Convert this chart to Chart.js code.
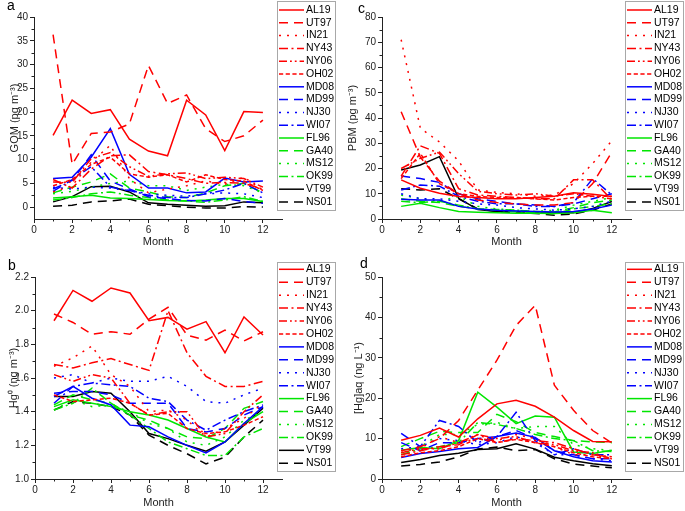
<!DOCTYPE html>
<html>
<head>
<meta charset="utf-8">
<script src="https://cdn.jsdelivr.net/npm/chart.js@4.4.1/dist/chart.umd.min.js"></script>
<style>
  body { margin: 0; background: #fff; width: 685px; height: 511px; position: relative; overflow: hidden; font-family: Arial, "Liberation Sans", sans-serif; }
  .panel { position: absolute; }
  .tag { position: absolute; font-size: 14px; line-height: 14px; color: #000; }
</style>
</head>
<body>
<div class="panel" style="left:0;top:0;width:342px;height:255px"><canvas id="chartA"></canvas></div>
<div class="panel" style="left:342px;top:0;width:343px;height:255px"><canvas id="chartC"></canvas></div>
<div class="panel" style="left:0;top:255px;width:342px;height:256px"><canvas id="chartB"></canvas></div>
<div class="panel" style="left:342px;top:255px;width:343px;height:256px"><canvas id="chartD"></canvas></div>
<div class="tag" style="left:7px;top:-2px">a</div>
<div class="tag" style="left:358px;top:1px">c</div>
<div class="tag" style="left:8px;top:258px">b</div>
<div class="tag" style="left:360px;top:256px">d</div>
<script>
const months = [1, 2, 3, 4, 5, 6, 7, 8, 9, 10, 11, 12]
const sites = ['AL19', 'UT97', 'IN21', 'NY43', 'NY06', 'OH02', 'MD08', 'MD99', 'NJ30', 'WI07', 'FL96', 'GA40', 'MS12', 'OK99', 'VT99', 'NS01']

// rows follow the order of sites
const gomValues = [
  [15.1, 22.5, 19.7, 20.5, 14.3, 11.8, 10.8, 22.5, 19.4, 11.9, 20.1, 19.9],
  [36.3, 9.0, 15.5, 15.8, 17.5, 29.8, 21.8, 23.6, 16.5, 13.8, 15.0, 18.3],
  [3.2, 4.5, 9.5, 13.0, 6.0, 3.0, 3.8, 4.5, 5.5, 4.8, 6.3, 3.5],
  [5.8, 4.0, 8.0, 10.8, 11.0, 7.5, 6.8, 6.0, 5.0, 5.2, 5.0, 3.8],
  [5.3, 5.2, 10.2, 11.5, 8.5, 6.5, 7.0, 7.2, 6.0, 6.3, 6.0, 4.2],
  [4.5, 5.8, 9.0, 10.5, 7.0, 6.3, 6.8, 5.3, 6.8, 5.8, 5.5, 3.5],
  [6.0, 6.3, 10.5, 16.5, 6.9, 4.0, 4.0, 3.0, 3.2, 6.1, 5.3, 5.5],
  [3.8, 5.6, 11.0, 5.5, 3.8, 2.2, 1.8, 1.4, 1.3, 1.8, 1.2, 0.8],
  [4.2, 3.8, 4.2, 4.0, 3.5, 2.8, 2.5, 2.3, 2.8, 3.0, 2.8, 2.0],
  [3.3, 5.8, 8.5, 4.2, 3.5, 2.5, 2.0, 2.0, 2.8, 3.6, 5.0, 3.0],
  [1.9, 2.2, 2.5, 1.9, 1.8, 1.6, 1.4, 1.3, 1.5, 1.8, 1.8, 1.2],
  [3.0, 4.2, 5.3, 7.0, 4.0, 3.2, 2.2, 2.0, 3.0, 4.5, 5.0, 3.0],
  [2.8, 3.3, 4.2, 5.0, 5.5, 4.5, 4.5, 3.5, 4.2, 4.8, 4.5, 3.0],
  [1.5, 2.0, 2.8, 3.2, 2.5, 2.0, 1.5, 1.3, 1.0, 1.5, 2.2, 1.2],
  [1.1, 2.2, 4.3, 4.4, 3.2, 0.9, 0.6, 0.4, 0.2, 0.3, 1.1, 0.9],
  [0.2, 0.4, 1.1, 1.3, 1.7, 0.6, 0.3, 0.0, -0.2, -0.2, 0.1, 0.0],
]

const pbmValues = [
  [15.5, 12.2, 10.2, 8.9, 8.5, 8.0, 8.0, 8.5, 9.0, 10.4, 9.8, 8.9],
  [42.5, 24.5, 15.0, 10.0, 7.5, 6.5, 6.0, 5.5, 5.5, 6.5, 14.0, 26.5],
  [71.0, 36.0, 30.5, 23.0, 11.5, 10.5, 10.0, 9.0, 9.5, 14.0, 22.0, 31.0],
  [17.0, 29.0, 26.0, 12.0, 9.5, 9.0, 8.5, 8.0, 8.0, 15.5, 15.5, 7.5],
  [20.0, 24.0, 26.5, 18.0, 11.0, 10.0, 9.5, 10.0, 9.0, 10.0, 9.0, 8.0],
  [16.0, 26.0, 14.0, 10.0, 9.0, 8.5, 8.5, 8.0, 7.5, 8.5, 9.0, 9.0],
  [7.8, 7.5, 7.5, 5.0, 4.0, 3.5, 3.2, 3.0, 2.8, 3.0, 4.0, 5.5],
  [17.0, 16.0, 14.5, 10.0, 8.0, 7.0, 6.0, 5.5, 5.0, 6.0, 8.0, 10.0],
  [10.0, 8.0, 8.0, 7.0, 6.0, 5.5, 4.5, 4.0, 3.5, 4.0, 5.0, 7.0],
  [11.5, 13.5, 13.0, 9.0, 7.0, 6.0, 6.0, 5.0, 5.0, 6.5, 16.0, 9.5],
  [5.0, 6.2, 4.5, 3.0, 2.7, 2.5, 2.3, 2.3, 2.2, 2.5, 3.5, 2.5],
  [8.0, 7.0, 6.5, 5.0, 4.0, 3.8, 3.5, 3.0, 2.8, 4.5, 6.5, 7.5],
  [9.5, 8.0, 7.0, 9.0, 5.0, 4.0, 3.5, 3.0, 3.5, 5.5, 7.0, 8.5],
  [7.0, 6.5, 7.0, 5.5, 4.0, 3.5, 3.0, 2.5, 2.0, 4.0, 5.0, 6.0],
  [19.4, 21.4, 24.7, 8.2, 3.8, 3.0, 3.0, 2.8, 2.5, 2.5, 4.2, 6.9],
  [12.0, 11.5, 12.0, 8.0, 4.0, 3.0, 2.5, 2.2, 1.5, 2.0, 3.5, 6.0],
]

const hg0Values = [
  [1.94, 2.12, 2.056, 2.135, 2.105, 1.94, 1.96, 1.89, 1.935, 1.75, 1.963, 1.855],
  [1.98, 1.93, 1.86, 1.875, 1.86, 1.95, 2.02, 1.855, 1.825, 1.885, 1.82, 1.875],
  [1.67, 1.72, 1.79, 1.62, 1.55, 1.40, 1.41, 1.35, 1.25, 1.30, 1.36, 1.45],
  [1.68, 1.66, 1.69, 1.715, 1.68, 1.645, 2.0, 1.75, 1.61, 1.55, 1.55, 1.58],
  [1.62, 1.58, 1.62, 1.60, 1.45, 1.38, 1.40, 1.40, 1.25, 1.27, 1.40, 1.50],
  [1.50, 1.46, 1.47, 1.48, 1.45, 1.38, 1.39, 1.30, 1.27, 1.28, 1.32, 1.37],
  [1.49, 1.55, 1.48, 1.44, 1.32, 1.31, 1.25, 1.20, 1.155, 1.22, 1.33, 1.43],
  [1.51, 1.52, 1.52, 1.50, 1.45, 1.45, 1.45, 1.30, 1.28, 1.30, 1.38, 1.43],
  [1.60, 1.62, 1.57, 1.60, 1.58, 1.58, 1.61, 1.55, 1.46, 1.45, 1.50, 1.54],
  [1.45, 1.55, 1.57, 1.56, 1.55, 1.48, 1.46, 1.35, 1.29, 1.35, 1.40, 1.44],
  [1.43, 1.47, 1.45, 1.43, 1.40, 1.38, 1.35, 1.30, 1.25, 1.22, 1.33, 1.40],
  [1.44, 1.50, 1.47, 1.45, 1.38, 1.35, 1.30, 1.25, 1.24, 1.30, 1.42, 1.46],
  [1.41, 1.47, 1.43, 1.44, 1.40, 1.33, 1.30, 1.22, 1.20, 1.25, 1.35, 1.40],
  [1.41, 1.45, 1.54, 1.45, 1.38, 1.30, 1.22, 1.18, 1.14, 1.14, 1.25, 1.30],
  [1.49, 1.49, 1.52, 1.51, 1.40, 1.27, 1.24, 1.20, 1.165, 1.22, 1.32, 1.42],
  [1.41, 1.46, 1.45, 1.43, 1.38, 1.26, 1.20, 1.15, 1.09, 1.13, 1.25, 1.35],
]

const hgAqValues = [
  [9.6, 10.8, 12.6, 10.4, 14.9, 18.6, 19.5, 18.0, 15.3, 12.0, 9.3, 9.2],
  [7.0, 8.0, 10.0, 14.5, 22.0, 29.4, 38.0, 43.0, 23.2, 17.0, 12.0, 8.9],
  [7.0, 7.5, 10.5, 9.0, 10.0, 9.5, 11.0, 10.0, 8.0, 6.0, 6.0, 5.0],
  [6.0, 7.0, 8.0, 8.5, 11.0, 9.0, 10.0, 9.5, 9.0, 7.5, 6.0, 5.5],
  [6.5, 7.5, 7.5, 9.0, 11.0, 10.0, 10.5, 9.0, 8.5, 7.0, 6.5, 5.0],
  [5.5, 6.5, 7.0, 8.0, 10.0, 9.0, 9.8, 9.0, 8.0, 6.5, 5.5, 5.0],
  [5.3, 6.3, 6.8, 7.5, 7.8, 10.5, 11.4, 10.3, 7.0, 5.5, 4.5, 4.2],
  [9.0, 7.0, 9.0, 9.0, 10.0, 10.5, 12.0, 10.0, 7.0, 6.0, 5.0, 5.0],
  [7.5, 8.0, 10.0, 9.5, 8.5, 9.0, 10.5, 9.0, 6.0, 6.0, 5.0, 4.5],
  [11.3, 8.0, 14.5, 13.0, 9.0, 10.5, 16.5, 9.5, 6.0, 7.5, 6.0, 6.0],
  [7.1, 7.8, 7.5, 9.5, 21.5, 17.8, 13.7, 15.6, 15.3, 6.7, 6.3, 7.1],
  [8.0, 10.0, 11.8, 11.5, 11.5, 16.0, 14.2, 11.5, 10.5, 9.5, 9.2, 9.0],
  [6.5, 8.0, 11.0, 11.0, 13.5, 14.0, 12.5, 13.0, 13.0, 8.5, 7.5, 7.0],
  [6.0, 7.5, 8.0, 9.0, 14.0, 13.5, 12.5, 11.0, 10.0, 9.5, 7.0, 6.8],
  [4.1, 4.8, 5.8, 6.4, 7.3, 7.5, 8.7, 7.4, 5.4, 4.5, 3.8, 3.3],
  [3.2, 3.6, 4.2, 5.5, 7.4, 7.9, 7.0, 7.3, 5.0, 3.7, 3.2, 2.8],
]

// line styles, same order as sites
const red = '#ff0000'
const blue = '#0000ff'
const green = '#00e600'
const black = '#000000'
const solid = []
const dash = [9, 6]
const dot = [2, 6]
const dashDot = [9, 3.5, 2, 3.5]
const dashDotDot = [8, 3, 1.8, 3, 1.8, 3]
const shortDash = [4.2, 2.5]

const siteColors = [red, red, red, red, red, red, blue, blue, blue, blue, green, green, green, green, black, black]
const siteDashes = [solid, dash, dot, dashDot, dashDotDot, shortDash, solid, dash, dot, dashDot, solid, dash, dot, dashDot, solid, dash]

const fontFamily = 'Arial, "Liberation Sans", sans-serif'
const axisColor = '#222'

// boxed legend and small minor ticks drawn on top of the chart
const boxLegend = {
  id: 'boxLegend',
  afterDraw(chart, args, opts) {
    const ctx = chart.ctx
    ctx.save()

    // minor ticks halfway between labelled ticks
    const xs = chart.scales.x
    const ys = chart.scales.y
    ctx.strokeStyle = axisColor
    ctx.lineWidth = 1
    ctx.setLineDash([])
    for (let v = opts.xMinorStart; v < xs.max; v += opts.xMinorStep) {
      const px = Math.round(xs.getPixelForValue(v)) + 0.5
      ctx.beginPath()
      ctx.moveTo(px, ys.bottom)
      ctx.lineTo(px, ys.bottom + 2.5)
      ctx.stroke()
    }
    for (let v = opts.yMinorStart; v < ys.max; v += opts.yMinorStep) {
      const py = Math.round(ys.getPixelForValue(v)) + 0.5
      ctx.beginPath()
      ctx.moveTo(xs.left, py)
      ctx.lineTo(xs.left - 2.5, py)
      ctx.stroke()
    }

    // legend box
    ctx.fillStyle = '#fff'
    ctx.fillRect(opts.x, opts.y, opts.w, opts.h)
    ctx.strokeStyle = '#a8a8a8'
    ctx.strokeRect(opts.x + 0.5, opts.y + 0.5, opts.w, opts.h)

    ctx.font = '10.5px ' + fontFamily
    ctx.textBaseline = 'middle'
    chart.data.datasets.forEach((ds, i) => {
      const ly = opts.first + i * opts.step
      ctx.strokeStyle = ds.borderColor
      ctx.lineWidth = ds.borderWidth
      ctx.setLineDash(ds.borderDash)
      ctx.beginPath()
      ctx.moveTo(opts.x + 2, ly)
      ctx.lineTo(opts.x + 27, ly)
      ctx.stroke()
      ctx.setLineDash([])
      ctx.fillStyle = '#000'
      ctx.fillText(ds.label, opts.x + 29, ly)
    })
    ctx.restore()
  },
}

const makePanel = (id, values, p) => {
  const canvas = document.getElementById(id)
  const w = canvas.parentNode.clientWidth
  const h = canvas.parentNode.clientHeight

  const datasets = sites.map((site, i) => ({
    label: site,
    data: months.map((m, j) => ({ x: m, y: values[i][j] })),
    borderColor: siteColors[i],
    borderDash: siteDashes[i],
    borderWidth: 1.5,
    pointRadius: 0,
    fill: false,
    tension: 0,
  }))

  return new Chart(canvas, {
    type: 'line',
    data: { datasets },
    options: {
      animation: false,
      responsive: true,
      maintainAspectRatio: false,
      devicePixelRatio: 1,
      layout: { padding: { top: p.top, right: w - p.right, left: 0, bottom: 0 } },
      plugins: {
        legend: { display: false },
        tooltip: { enabled: false },
        boxLegend: p.legend,
      },
      scales: {
        x: {
          type: 'linear',
          min: 0,
          max: 13,
          afterFit: (s) => { s.height = h - p.bottom },
          ticks: { stepSize: 2, includeBounds: false, color: '#222', font: { family: fontFamily, size: 10 }, padding: 1, maxRotation: 0 },
          grid: { drawOnChartArea: false, tickLength: 4, tickColor: axisColor },
          border: { color: axisColor, width: 1 },
          title: { display: true, text: 'Month', color: '#222', font: { family: fontFamily, size: 11 }, padding: { top: 0, bottom: p.monthPad } },
        },
        y: {
          min: p.yMin,
          max: p.yMax,
          afterFit: (s) => { s.width = p.left },
          ticks: { stepSize: p.yStep, includeBounds: false, color: '#222', font: { family: fontFamily, size: 10 }, padding: 2, callback: p.yFormat },
          grid: { drawOnChartArea: false, tickLength: 4, tickColor: axisColor },
          border: { color: axisColor, width: 1 },
          title: { display: true, text: p.yTitle, color: '#222', font: { family: fontFamily, size: 11 }, padding: { top: p.titlePad, bottom: 0 } },
        },
      },
    },
    plugins: [boxLegend],
  })
}

const topLegend = (x) => ({ x: x, y: 1, w: 58, h: 209, first: 10, step: 12.8, xMinorStart: 1, xMinorStep: 2 })
const bottomLegend = (x) => ({ x: x, y: 7, w: 58, h: 209, first: 14.3, step: 12.93, xMinorStart: 1, xMinorStep: 2 })

makePanel('chartA', gomValues, {
  left: 34, right: 282, top: 17, bottom: 219,
  yMin: -2.5, yMax: 40, yStep: 5, yTitle: 'GOM (pg m⁻³)', titlePad: 8,
  monthPad: 6, yFormat: (v) => v,
  legend: { ...topLegend(277), yMinorStart: 2.5, yMinorStep: 5 },
})

makePanel('chartC', pbmValues, {
  left: 40, right: 289, top: 17, bottom: 219,
  yMin: 0, yMax: 80, yStep: 10, yTitle: 'PBM (pg m⁻³)', titlePad: 4.5,
  monthPad: 6, yFormat: (v) => v,
  legend: { ...topLegend(283), yMinorStart: 5, yMinorStep: 10 },
})

makePanel('chartB', hg0Values, {
  left: 35, right: 282, top: 22, bottom: 224,
  yMin: 1.0, yMax: 2.2, yStep: 0.2, yTitle: 'Hg⁰ (ng m⁻³)', titlePad: 7,
  monthPad: 1, yFormat: (v) => Number(v).toFixed(1),
  legend: { ...bottomLegend(277), yMinorStart: 1.1, yMinorStep: 0.2 },
})

makePanel('chartD', hgAqValues, {
  left: 40, right: 289, top: 22, bottom: 224,
  yMin: 0, yMax: 50, yStep: 10, yTitle: '[Hg]aq (ng L⁻¹)', titlePad: 10,
  monthPad: 1, yFormat: (v) => v,
  legend: { ...bottomLegend(283), yMinorStart: 5, yMinorStep: 10 },
})
</script>
</body>
</html>
